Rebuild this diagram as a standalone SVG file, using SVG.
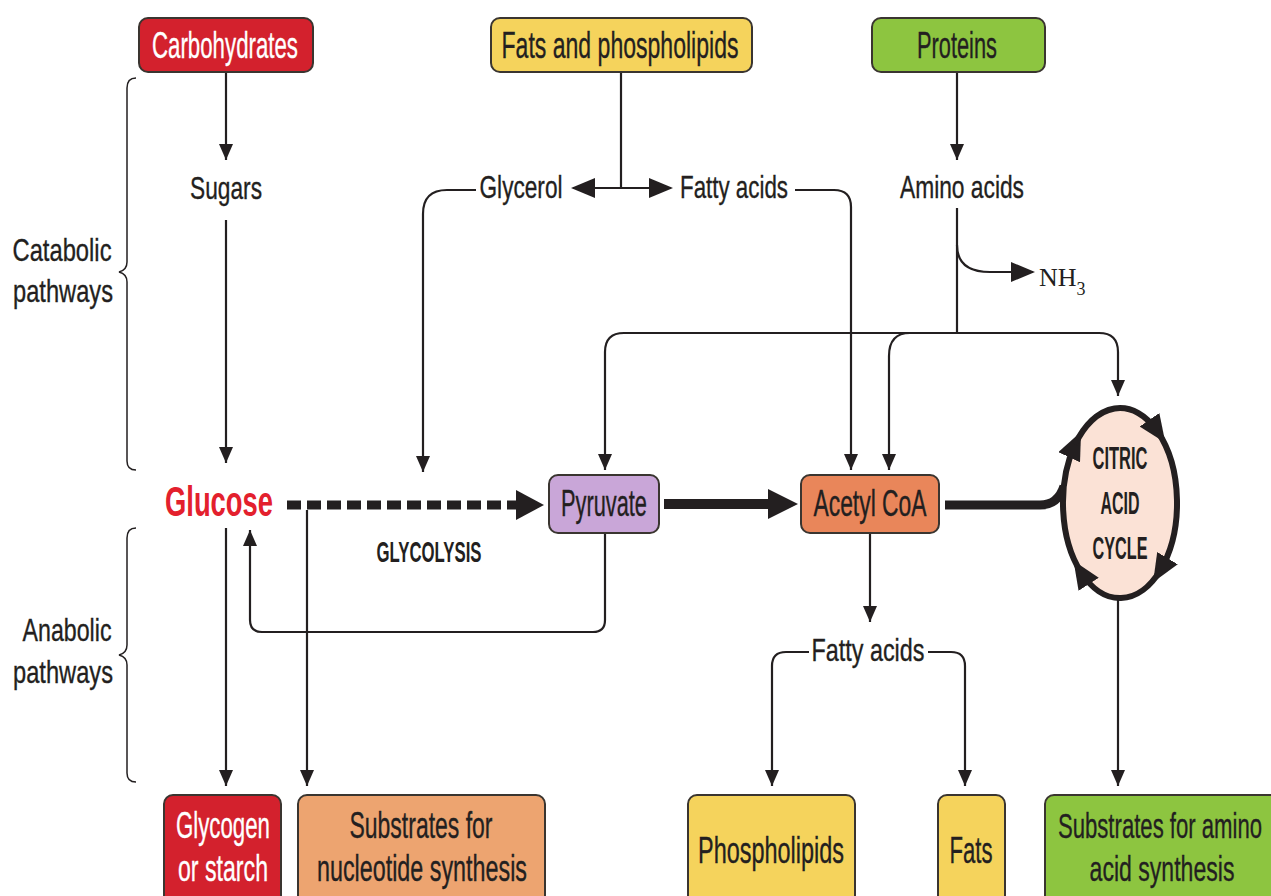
<svg xmlns="http://www.w3.org/2000/svg" width="1271" height="896" viewBox="0 0 1271 896">
<style>
.t{font-family:"Liberation Sans Narrow","Liberation Sans",Arial,sans-serif;fill:#231f20;stroke:#231f20;stroke-width:0.35;text-anchor:middle}
.n{font-size:36px}
.m{font-size:32px}
.b{font-weight:bold;stroke-width:0}
.w{fill:#ffffff;stroke:#ffffff}
.box{stroke:#3a3530;stroke-width:2}
.ln{fill:none;stroke:#231f20;stroke-width:2.2}
.br{fill:none;stroke:#231f20;stroke-width:1.5}
.ring{fill:none;stroke:#231f20;stroke-width:6}
</style>
<defs>
<marker id="a" markerUnits="userSpaceOnUse" markerWidth="16" markerHeight="14" refX="16" refY="7" orient="auto"><path d="M0,0 L16,7 L0,14 z" fill="#231f20"/></marker>
<marker id="ab" markerUnits="userSpaceOnUse" markerWidth="24" markerHeight="20" refX="22" refY="10" orient="auto"><path d="M0,0 L24,10 L0,20 z" fill="#231f20"/></marker>
<marker id="at" markerUnits="userSpaceOnUse" markerWidth="30" markerHeight="30" refX="20" refY="15" orient="auto"><path d="M0,0 L30,15 L0,30 z" fill="#231f20"/></marker>
<marker id="ac" markerUnits="userSpaceOnUse" markerWidth="28" markerHeight="24" refX="14" refY="12" orient="auto"><path d="M0,0 L28,12 L0,24 z" fill="#231f20"/></marker>
</defs>
<rect width="1271" height="896" fill="#ffffff"/>

<g id="connectors">
<path class="ln" d="M226 73 L226 160" marker-end="url(#a)"/>
<path class="ln" d="M226 220 L226 463" marker-end="url(#a)"/>
<path class="ln" d="M621 73 L621 188"/>
<path class="ln" d="M621 188 L573 188" marker-end="url(#ab)"/>
<path class="ln" d="M621 188 L671 188" marker-end="url(#ab)"/>
<path class="ln" d="M476 190 L447 190 Q423 190 423 214 L423 472" marker-end="url(#a)"/>
<path class="ln" d="M795 190 L834 190 Q851 190 851 207 L851 470" marker-end="url(#a)"/>
<path class="ln" d="M957 73 L957 160" marker-end="url(#a)"/>
<path class="ln" d="M957 208 L957 333"/>
<path class="ln" d="M957 245 Q957 272 990 272 L1033 272" marker-end="url(#ab)"/>
<path class="ln" d="M960 333 L624 333 Q605 333 605 352 L605 470" marker-end="url(#a)"/>
<path class="ln" d="M955 333 L1099 333 Q1118 333 1118 352 L1118 396" marker-end="url(#a)"/>
<path class="ln" d="M935 333 L910 333 Q889 333 889 356 L889 470" marker-end="url(#a)"/>
<path fill="none" stroke="#231f20" stroke-width="9" stroke-dasharray="14 6" d="M287 505 L518 505"/>
<path d="M516 490 L544 505 L516 520 z" fill="#231f20"/>
<path fill="none" stroke="#231f20" stroke-width="10" d="M664 504 L788 504" marker-end="url(#at)"/>
<path fill="none" stroke="#231f20" stroke-width="9" d="M945 505 L1040 505 Q1058 505 1064 486"/>
<path class="ln" d="M605 534 L605 620 Q605 632 593 632 L262 632 Q250 632 250 620 L250 530" marker-end="url(#a)"/>
<path class="ln" d="M226 528 L226 786" marker-end="url(#a)"/>
<path class="ln" d="M307 510 L307 786" marker-end="url(#a)"/>
<path class="ln" d="M870 534 L870 622" marker-end="url(#a)"/>
<path class="ln" d="M809 652 L786 652 Q772 652 772 666 L772 786" marker-end="url(#a)"/>
<path class="ln" d="M928 652 L951 652 Q965 652 965 666 L965 786" marker-end="url(#a)"/>
<path class="ln" d="M1118 600 L1118 786" marker-end="url(#a)"/>
</g>

<g id="brackets">
<path class="br" d="M136 78 Q127 78 127 88 L127 262 Q127 270 119 272 Q127 274 127 282 L127 461 Q127 470 136 470"/>
<path class="br" d="M136 528 Q127 528 127 538 L127 645 Q127 653 119 655 Q127 657 127 665 L127 773 Q127 782 136 782"/>
<text class="t m" x="62" y="261" textLength="99" lengthAdjust="spacingAndGlyphs">Catabolic</text>
<text class="t m" x="63" y="302" textLength="100" lengthAdjust="spacingAndGlyphs">pathways</text>
<text class="t m" x="67" y="641" textLength="89" lengthAdjust="spacingAndGlyphs">Anabolic</text>
<text class="t m" x="63" y="683" textLength="100" lengthAdjust="spacingAndGlyphs">pathways</text>
</g>

<g id="carbohydrates">
<rect class="box" x="139" y="18" width="174" height="54" rx="9" fill="#d3212d"/>
<text class="t n w" x="225" y="58" textLength="146" lengthAdjust="spacingAndGlyphs">Carbohydrates</text>
</g>
<g id="fats-phospholipids">
<rect class="box" x="491" y="18" width="261" height="54" rx="9" fill="#f5d35c"/>
<text class="t n" x="620" y="58" textLength="237" lengthAdjust="spacingAndGlyphs">Fats and phospholipids</text>
</g>
<g id="proteins">
<rect class="box" x="872" y="18" width="173" height="54" rx="9" fill="#8dc540"/>
<text class="t n" x="957" y="58" textLength="80" lengthAdjust="spacingAndGlyphs">Proteins</text>
</g>

<g id="sugars"><text class="t m" x="226" y="199" textLength="72" lengthAdjust="spacingAndGlyphs">Sugars</text></g>
<g id="glycerol"><text class="t m" x="521" y="198" textLength="83" lengthAdjust="spacingAndGlyphs">Glycerol</text></g>
<g id="fatty-acids-top"><text class="t m" x="734" y="198" textLength="108" lengthAdjust="spacingAndGlyphs">Fatty acids</text></g>
<g id="amino-acids"><text class="t m" x="962" y="198" textLength="124" lengthAdjust="spacingAndGlyphs">Amino acids</text></g>
<g id="nh3"><text x="1039" y="286" font-family="Liberation Serif,serif" font-size="26" fill="#231f20">NH<tspan font-size="18" dy="9">3</tspan></text></g>

<g id="glucose"><text class="t b" x="219" y="516" font-size="42" style="fill:#e3202d" textLength="108" lengthAdjust="spacingAndGlyphs">Glucose</text></g>
<g id="glycolysis"><text class="t b" x="429" y="562" font-size="30" textLength="105" lengthAdjust="spacingAndGlyphs">GLYCOLYSIS</text></g>

<g id="pyruvate">
<rect class="box" x="549" y="475" width="110" height="58" rx="9" fill="#c9a6d8"/>
<text class="t n" x="604" y="516" textLength="86" lengthAdjust="spacingAndGlyphs">Pyruvate</text>
</g>
<g id="acetyl-coa">
<rect class="box" x="801" y="475" width="138" height="58" rx="9" fill="#e9865a"/>
<text class="t n" x="870" y="516" textLength="113" lengthAdjust="spacingAndGlyphs">Acetyl CoA</text>
</g>

<g id="citric-acid-cycle">
<ellipse cx="1120" cy="503" rx="57" ry="95" fill="#fbe2d6"/>
<path class="ring" d="M1081.1 572.5 A57 95 0 0 1 1075.1 444.5" marker-end="url(#ac)"/>
<path class="ring" d="M1075.1 444.5 A57 95 0 0 1 1157.4 431.3" marker-end="url(#ac)"/>
<path class="ring" d="M1157.4 431.3 A57 95 0 0 1 1160.3 570.2" marker-end="url(#ac)"/>
<path class="ring" d="M1160.3 570.2 A57 95 0 0 1 1081.1 572.5" marker-end="url(#ac)"/>
<text class="t b" x="1120" y="469" font-size="32" textLength="55" lengthAdjust="spacingAndGlyphs">CITRIC</text>
<text class="t b" x="1120" y="514" font-size="32" textLength="39" lengthAdjust="spacingAndGlyphs">ACID</text>
<text class="t b" x="1120" y="559" font-size="32" textLength="55" lengthAdjust="spacingAndGlyphs">CYCLE</text>
</g>

<g id="fatty-acids-bottom"><text class="t m" x="868" y="661" textLength="113" lengthAdjust="spacingAndGlyphs">Fatty acids</text></g>

<g id="glycogen">
<rect class="box" x="164" y="795" width="117" height="115" rx="9" fill="#d3212d"/>
<text class="t n w" x="223" y="838" textLength="94" lengthAdjust="spacingAndGlyphs">Glycogen</text>
<text class="t n w" x="223" y="881" textLength="90" lengthAdjust="spacingAndGlyphs">or starch</text>
</g>
<g id="nucleotide-substrates">
<rect class="box" x="298" y="795" width="247" height="115" rx="9" fill="#eda470"/>
<text class="t n" x="421" y="838" textLength="143" lengthAdjust="spacingAndGlyphs">Substrates for</text>
<text class="t n" x="422" y="881" textLength="210" lengthAdjust="spacingAndGlyphs">nucleotide synthesis</text>
</g>
<g id="phospholipids">
<rect class="box" x="688" y="795" width="167" height="115" rx="9" fill="#f5d35c"/>
<text class="t n" x="771" y="863" textLength="146" lengthAdjust="spacingAndGlyphs">Phospholipids</text>
</g>
<g id="fats">
<rect class="box" x="938" y="795" width="67" height="115" rx="9" fill="#f5d35c"/>
<text class="t n" x="971" y="863" textLength="43" lengthAdjust="spacingAndGlyphs">Fats</text>
</g>
<g id="amino-substrates">
<rect class="box" x="1045" y="795" width="240" height="115" rx="9" fill="#8dc540"/>
<text class="t n" transform="translate(1160 838) scale(0.63 1)" x="0" y="0" textLength="324" lengthAdjust="spacingAndGlyphs">Substrates for amino</text>
<text class="t n" transform="translate(1162 881) scale(0.63 1)" x="0" y="0" textLength="230" lengthAdjust="spacingAndGlyphs">acid synthesis</text>
</g>
</svg>
